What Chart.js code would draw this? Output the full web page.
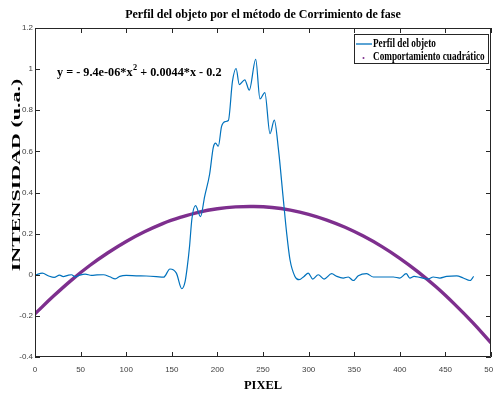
<!DOCTYPE html>
<html><head><meta charset="utf-8">
<script src="https://cdn.jsdelivr.net/npm/chart.js@4.4.1/dist/chart.umd.min.js"></script>
<style>html,body{margin:0;padding:0;background:#fff;}</style>
</head><body>
<canvas id="c" width="493" height="398"></canvas>
<script>
const titleText = 'Perfil del objeto por el método de Corrimiento de fase';
const xAxisTitle = 'PIXEL';
const yAxisTitle = 'INTENSIDAD (u.a.)';
const seriesNames = ['Perfil del objeto', 'Comportamiento cuadrático'];
const equationParts = ['y = - 9.4e-06*x', '2', ' + 0.0044*x - 0.2'];

const profileX = [1, 8, 15, 21, 27, 31, 36, 40, 44, 49, 55, 62, 68, 75, 82, 88, 93, 100, 111, 122, 133, 141, 148, 155, 161, 164.5, 167, 169.5, 172, 176, 181.5, 186, 191.5, 195.5, 198, 201, 204.5, 208.5, 212, 216.5, 220.5, 224, 230, 235, 242, 246.7, 252, 257.7, 262.4, 267, 272, 276, 279.6, 285, 289.5, 295, 299.6, 304.5, 310.6, 317, 325.3, 331, 338, 343.5, 349, 354.5, 363.7, 371, 382, 393, 400, 407, 411, 415.6, 422, 431, 436.7, 444, 451.4, 462.4, 469.6, 477, 481];
const profileY = [0.000, 0.008, -0.006, -0.013, -0.002, -0.009, -0.003, 0.000, -0.010, -0.002, 0.003, -0.003, -0.001, 0.000, -0.010, -0.020, -0.008, -0.003, -0.005, -0.006, -0.009, -0.012, 0.028, 0.008, -0.068, -0.035, 0.040, 0.140, 0.270, 0.336, 0.283, 0.380, 0.490, 0.620, 0.640, 0.625, 0.720, 0.745, 0.750, 0.940, 1.003, 0.925, 0.948, 0.898, 1.048, 0.855, 0.886, 0.686, 0.752, 0.607, 0.380, 0.200, 0.073, -0.008, -0.024, -0.008, 0.008, -0.021, 0.000, -0.021, 0.005, -0.008, -0.016, -0.011, -0.028, -0.005, 0.005, -0.011, -0.011, -0.011, -0.016, 0.005, -0.016, -0.008, -0.013, -0.021, -0.011, -0.016, -0.008, -0.005, -0.016, -0.028, -0.008];

const quadX = [0, 20, 40, 60, 80, 100, 120, 140, 160, 180, 200, 220, 240, 260, 280, 300, 320, 340, 360, 380, 400, 420, 440, 460, 480, 500];
const quadY = [-0.190, -0.105, -0.026, 0.045, 0.107, 0.162, 0.209, 0.249, 0.280, 0.305, 0.321, 0.330, 0.332, 0.327, 0.314, 0.294, 0.266, 0.231, 0.188, 0.138, 0.080, 0.014, -0.060, -0.143, -0.233, -0.331];

const serif = '"Liberation Serif", "Times New Roman", serif';
const sans = '"Liberation Sans", Arial, sans-serif';

// draw text squeezed horizontally (the reference text is narrow)
function squeezedText(ctx, text, x, y, sx) {
  ctx.save();
  ctx.translate(x, y);
  ctx.scale(sx, 1);
  ctx.fillText(text, 0, 0);
  const w = ctx.measureText(text).width * sx;
  ctx.restore();
  return w;
}

const framePlugin = {
  id: 'frame',
  afterDatasetsDraw(chart) {
    const {ctx, chartArea: {left, right, top, bottom}, scales: {x, y}} = chart;
    ctx.save();
    ctx.strokeStyle = '#262626';
    ctx.lineWidth = 1;
    ctx.beginPath();
    ctx.rect(Math.round(left) + 0.5, Math.round(top) + 0.5, Math.round(right - left) - 1, Math.round(bottom - top) - 1);
    const tl = 5;
    x.ticks.forEach(t => {
      const px = Math.round(x.getPixelForValue(t.value)) + 0.5;
      ctx.moveTo(px, bottom); ctx.lineTo(px, bottom - tl);
      ctx.moveTo(px, top); ctx.lineTo(px, top + tl);
    });
    y.ticks.forEach(t => {
      const py = Math.round(y.getPixelForValue(t.value)) + 0.5;
      ctx.moveTo(left, py); ctx.lineTo(left + tl, py);
      ctx.moveTo(right, py); ctx.lineTo(right - tl, py);
    });
    ctx.stroke();

    ctx.fillStyle = '#000';
    ctx.textBaseline = 'middle';

    // y axis title (rotated, narrow glyphs)
    ctx.save();
    ctx.font = 'bold 22px ' + serif;
    ctx.textAlign = 'center';
    ctx.translate(17, 175);
    ctx.scale(0.56, 1);
    ctx.rotate(-Math.PI / 2);
    ctx.fillText(yAxisTitle, 0, 0);
    ctx.restore();

    // equation annotation
    ctx.textAlign = 'left';
    ctx.font = 'bold 12.6px ' + serif;
    let ex = 57, ey = 73;
    ex += squeezedText(ctx, equationParts[0], ex, ey, 0.97);
    ctx.font = 'bold 8.6px ' + serif;
    ex += squeezedText(ctx, equationParts[1], ex + 0.5, ey - 5, 0.97) + 0.5;
    ctx.font = 'bold 12.6px ' + serif;
    squeezedText(ctx, equationParts[2], ex, ey, 0.97);

    // legend
    const ds = chart.data.datasets;
    ctx.font = 'bold 11.5px ' + serif;
    const sx = 0.8;
    const bx = 354, by = 34, textX = 373;
    let maxW = 0;
    ds.forEach(d => { maxW = Math.max(maxW, ctx.measureText(d.label).width * sx); });
    const bw = Math.round(textX - bx + maxW + 3), bh = 29;
    ctx.fillStyle = '#fff';
    ctx.fillRect(bx, by, bw, bh);
    ctx.strokeStyle = '#262626';
    ctx.strokeRect(bx + 0.5, by + 0.5, bw, bh);
    const rows = [by + 10, by + 23];
    ctx.strokeStyle = ds[0].borderColor;
    ctx.lineWidth = 1.3;
    ctx.beginPath(); ctx.moveTo(356, rows[0]); ctx.lineTo(372, rows[0]); ctx.stroke();
    ctx.fillStyle = ds[1].borderColor;
    ctx.beginPath(); ctx.arc(363.5, rows[1] + 1, 1, 0, Math.PI * 2); ctx.fill();
    ctx.fillStyle = '#000';
    ds.forEach((d, i) => squeezedText(ctx, d.label, textX, rows[i], sx));
    ctx.restore();
  }
};

new Chart(document.getElementById('c'), {
  type: 'scatter',
  data: {
    datasets: [
      {
        label: seriesNames[0],
        data: profileX.map((v, i) => ({x: v, y: profileY[i]})),
        showLine: true,
        borderColor: '#0072BD',
        borderWidth: 1.2,
        pointRadius: 0,
        cubicInterpolationMode: 'monotone'
      },
      {
        label: seriesNames[1],
        data: quadX.map((v, i) => ({x: v, y: quadY[i]})),
        showLine: true,
        borderColor: '#7E2F8E',
        borderWidth: 3.4,
        pointRadius: 0,
        tension: 0.4
      }
    ]
  },
  options: {
    responsive: false,
    animation: false,
    devicePixelRatio: 1,
    layout: {padding: {right: 2, left: 0, top: 0, bottom: 0}},
    plugins: {
      legend: {display: false},
      tooltip: {enabled: false},
      title: {
        display: true,
        fullSize: false,
        text: titleText,
        color: '#000',
        font: {family: serif, size: 12, weight: 'bold', lineHeight: 1.2},
        padding: {top: 8, bottom: 5.6}
      }
    },
    scales: {
      x: {
        type: 'linear', min: 0, max: 500,
        grid: {display: false, drawTicks: false},
        border: {display: false},
        ticks: {stepSize: 50, color: '#404040', font: {family: sans, size: 8}, padding: 8, maxRotation: 0,
          callback: v => String(v)},
        title: {display: true, text: xAxisTitle, color: '#000',
          font: {family: serif, size: 12.5, weight: 'bold', lineHeight: 1.2}, padding: {top: 0, bottom: 5}},
        afterFit: s => { s.height = 41; s.paddingLeft = 0; s.paddingRight = 0; }
      },
      y: {
        type: 'linear', min: -0.4, max: 1.2,
        grid: {display: false, drawTicks: false},
        border: {display: false},
        ticks: {stepSize: 0.2, color: '#404040', font: {family: sans, size: 8}, padding: 2,
          callback: v => String(Math.round(v * 10) / 10)},
        title: {display: false, text: yAxisTitle},
        afterFit: s => { s.width = 35; s.paddingTop = 0; s.paddingBottom = 0; }
      }
    }
  },
  plugins: [framePlugin]
});
</script>
</body></html>
